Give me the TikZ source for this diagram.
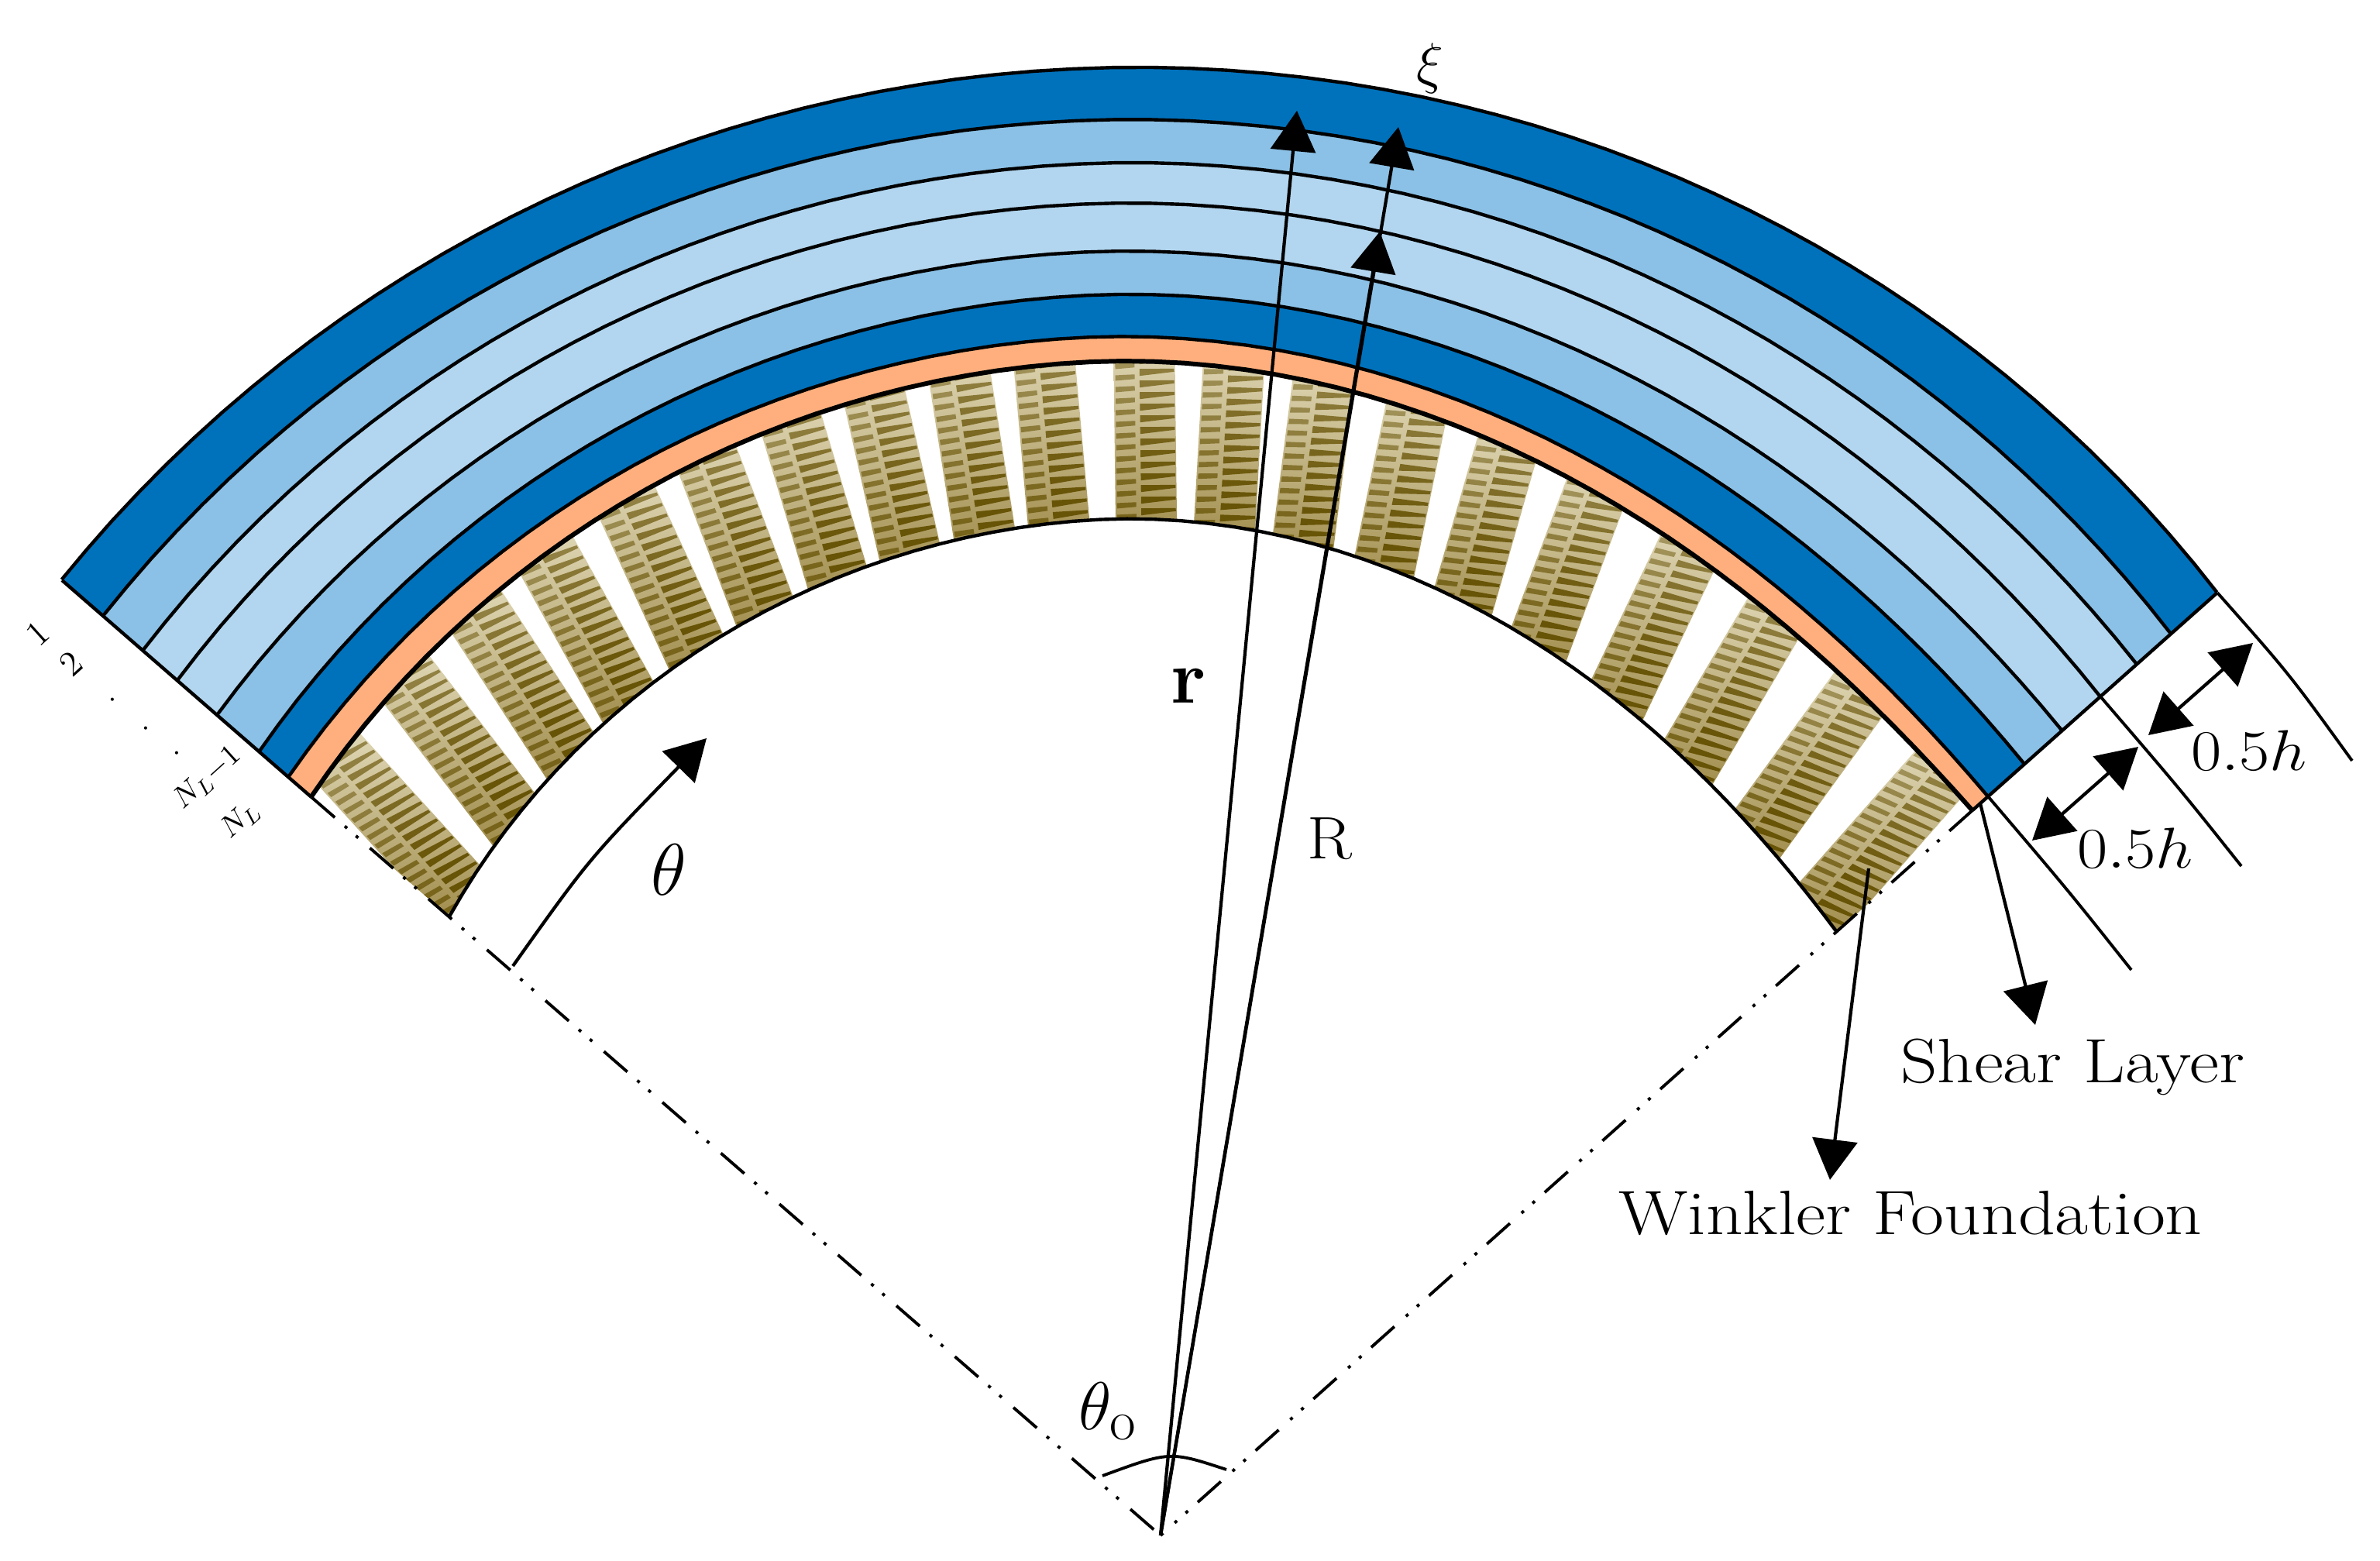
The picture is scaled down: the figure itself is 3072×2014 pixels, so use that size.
\documentclass[tikz,border=0pt]{standalone}
\usetikzlibrary{arrows.meta}
\definecolor{dkblue}{RGB}{0,114,188}
\definecolor{mdblue}{RGB}{139,193,230}
\definecolor{ltblue}{RGB}{178,214,239}
\definecolor{shearc}{RGB}{255,175,125}
\definecolor{coilpale}{RGB}{226,218,186}
\definecolor{coildeep}{RGB}{158,138,72}
\definecolor{coilbar}{RGB}{104,84,6}
\newcommand\pl[6]{plot[variable=\q,domain=#5:#6,samples=65]({rb(\q,#1,#2,#3,#4)*sin(\q)},{rb(\q,#1,#2,#3,#4)*cos(\q)})}
\newcommand\fs[1]{\fontsize{#1}{#1}\selectfont}
\tikzset{
  pstyle/.style={variable=\q,samples=65},
  bandline/.style={black,line width=1.25pt},
  heavyline/.style={black,line width=1.7pt},
  thinline/.style={black,line width=1.1pt},
  dimarrow/.style={black,line width=1.2pt,-{Triangle[length=0.52cm,width=0.58cm]}},
  dblarrow/.style={black,line width=1.2pt,{Triangle[length=0.52cm,width=0.58cm]}-{Triangle[length=0.52cm,width=0.58cm]}},
  dashdot/.style={black,line width=1.1pt,dash pattern=on 0.4cm off 0.17cm on 0.04cm off 0.15cm on 0.04cm off 0.2cm},
  lbl/.style={inner sep=0pt,outer sep=0pt,text=black},
}
\begin{document}
\begin{tikzpicture}[x=0.01cm,y=0.01cm,
  declare function={rb(\p,\a,\b,\c,\d)=\a*((\p+4.47)*(\p-48.24)/4327.3)+\b*((\p+48.98)*(\p-48.24)/(-2346.1))+\c*((\p+48.98)*(\p+4.47)/5124.5)+\d*(max(0,\p+4.47)/35.1)*(max(0,\p+4.47)/35.1)*(48.24-\p)/17.5;}]
\useasboundingbox (-1498,-32) rectangle (1574,1982);
% layers
\foreach \ra/\rb/\rc/\rd/\sa/\sb/\sc/\sd/\col in {
  1880/1897/1828/0/1809/1830/1748/-4/dkblue,
  1809/1830/1748/-4/1741/1774/1689/-9/mdblue,
  1741/1774/1689/-9/1682/1722/1626/-13/ltblue,
  1682/1722/1626/-13/1614/1660/1560/-18/ltblue,
  1614/1660/1560/-18/1542/1604/1495/-22/mdblue,
  1542/1604/1495/-22/1492/1550/1432/-27/dkblue,
  1492/1550/1432/-27/1453/1518/1405/-31/shearc}{
  \fill[\col] plot[pstyle,domain=-48.98:48.24] ({rb(\q,\ra,\rb,\rc,\rd)*sin(\q)},{rb(\q,\ra,\rb,\rc,\rd)*cos(\q)}) -- plot[pstyle,domain=48.24:-48.98] ({rb(\q,\sa,\sb,\sc,\sd)*sin(\q)},{rb(\q,\sa,\sb,\sc,\sd)*cos(\q)}) -- cycle;
}
% springs
\begin{scope}
\clip plot[pstyle,domain=-48.98:48.24] ({rb(\q,1453,1518,1405,-31)*sin(\q)},{rb(\q,1453,1518,1405,-31)*cos(\q)}) -- plot[pstyle,domain=48.24:-48.98] ({rb(\q,1217,1314,1170,-28)*sin(\q)},{rb(\q,1217,1314,1170,-28)*cos(\q)}) -- cycle;
\foreach \f in {-47,-41.7,-36.8,-32.3,-27.5,-23,-18.5,-14.2,-9.9,-5.7,-0.8,3.6,8.1,12.9,17.8,22.8,28.4,34,40,46}{
  \pgfmathsetmacro\rmid{0.5*(rb(\f,1453,1518,1405,-31)+rb(\f,1217,1314,1170,-28))}
  \pgfmathsetmacro\psival{0.9*\f}
  \pgfmathsetmacro\slp{tan(0.35*\psival)}
  \pgfmathsetmacro\hw{39.5+3*abs(\f)/46}
  \begin{scope}[shift={({\rmid*sin(\f)},{\rmid*cos(\f)})},rotate=-\psival]
    \shade[top color=coilpale,bottom color=coildeep] ({-\hw},-135) rectangle ({\hw},135);
    \foreach \y in {-150,-135,...,150}{
      \pgfmathsetmacro\op{min(1,0.6+0.5*(120-\y)/240)}
      \fill[coilbar,opacity=\op] ({-0.16*\hw},{\y-7+(-0.16*\hw)*\slp}) -- ({0.97*\hw},{\y-2+0.97*\hw*\slp}) -- ({0.97*\hw},{\y+2+0.97*\hw*\slp}) -- ({-0.16*\hw},{\y+2+(-0.16*\hw)*\slp}) -- cycle;
      \fill[coilbar,opacity=0.75*\op] ({-0.95*\hw},{\y+2+(-0.95*\hw)*\slp}) -- ({-0.32*\hw},{\y+4+(-0.32*\hw)*\slp}) -- ({-0.32*\hw},{\y+10+(-0.32*\hw)*\slp}) -- ({-0.95*\hw},{\y+9+(-0.95*\hw)*\slp}) -- cycle;
    }
  \end{scope}
}
\end{scope}
% boundary lines
\foreach \ra/\rb/\rc/\rd in {1880/1897/1828/0,1809/1830/1748/-4,1741/1774/1689/-9,1682/1722/1626/-13,1614/1660/1560/-18,1542/1604/1495/-22,1492/1550/1432/-27}{
  \draw[bandline] \pl{\ra}{\rb}{\rc}{\rd}{-48.98}{48.24};
}
\draw[heavyline] \pl{1453}{1518}{1405}{-31}{-48.98}{48.24};
\draw[bandline] \pl{1217}{1314}{1170}{-28}{-48.98}{48.24};
% coordinates
\coordinate (apex) at (0,0);
\coordinate (LO) at (-1418,1233);
\coordinate (LS) at (-1096,953);
\coordinate (RO) at (1364,1217);
\coordinate (RM) at (1213,1083);
\coordinate (RB) at (1068,954);
\coordinate (RS) at (1048,936);
\coordinate (E1) at (1538,1000);
\coordinate (E2) at (1395,864);
\coordinate (E3) at (1253,730);
\coordinate (rtip) at (176,1839);
\coordinate (Rtip) at (307,1818);
\coordinate (Rmid) at (283,1683);
\coordinate (wfrom) at (914,861);
\coordinate (wtip) at (864,459);
\coordinate (sfrom) at (1058,945);
\coordinate (stip) at (1129,659);
\coordinate (hA) at (1410,1152);
\coordinate (hB) at (1275,1033);
\coordinate (hC) at (1262,1018);
\coordinate (hD) at (1125,897);
\coordinate (thA) at (-836,735);
\coordinate (thB) at (-586,1029);
\coordinate (toA) at (-75,77);
\coordinate (toB) at (85,85);
% side edges
\draw[bandline] (LO) -- (LS);
\draw[bandline] (RO) -- (RS);
\draw[dashdot] (LS) -- (apex);
\draw[dashdot] (RS) -- (apex);
% extension lines
\draw[thinline] (RO) .. controls (1457,1112) .. (E1);
\draw[thinline] (RM) .. controls (1317,962) .. (E2);
\draw[thinline] (RB) .. controls (1172,832) .. (E3);
% arrows
\draw[dimarrow] (apex) -- (rtip);
\draw[dimarrow] (apex) -- (Rtip);
\draw[dimarrow] (apex) -- (Rmid);
\draw[dimarrow] (wfrom) -- (wtip);
\draw[dimarrow] (sfrom) -- (stip);
\draw[dblarrow] (hA) -- (hB);
\draw[dblarrow] (hC) -- (hD);
\draw[dimarrow] (thA) .. controls (-738,873) .. (thB);
\draw[thinline] (toA) .. controls (12,109) .. (toB);
% labels
\node[lbl,anchor=base] (wl) at (968,389) {\fs{23}\scalebox{1.155}[1]{Winkler Foundation}};
\node[lbl,anchor=base] (sl) at (1177,584) {\fs{23}\scalebox{1.15}[1]{Shear Layer}};
\node[lbl,anchor=base] (h1) at (1405,987) {\fs{20.74}\scalebox{1.17}[1.02]{$0.5h$}};
\node[lbl,anchor=base] (h2) at (1258,861) {\fs{20.74}\scalebox{1.17}[1.02]{$0.5h$}};
\node[lbl] (th) at (-635,859) {\fs{24.88}\scalebox{1.08}{$\theta$}};
\node[lbl] (tho) at (-68,160) {\fs{24.88}$\theta_{\mathrm{o}}$};
\node[lbl] (rl) at (36,1097) {\fs{28}\textbf{r}};
\node[lbl] (Rl) at (218,899) {\fs{22}\scalebox{1.1}[1]{R}};
\node[lbl] (xi) at (348,1894) {\fs{20.74}$\xi$};
\node[lbl,rotate=42] (n1) at (-1449,1164) {\fs{13}1};
\node[lbl,rotate=42] (n2) at (-1406,1125) {\fs{13}2};
\node[lbl,rotate=42] (d1) at (-1353,1079) {\fs{12}.};
\node[lbl,rotate=42] (d2) at (-1310,1042) {\fs{12}.};
\node[lbl,rotate=42] (d3) at (-1270,1010) {\fs{12}.};
\node[lbl,rotate=42] (n3) at (-1230,978) {\fs{10.95}$N_L{-}1$};
\node[lbl,rotate=42] (n4) at (-1188,924) {\fs{10.95}$N_L$};
\end{tikzpicture}
\end{document}
